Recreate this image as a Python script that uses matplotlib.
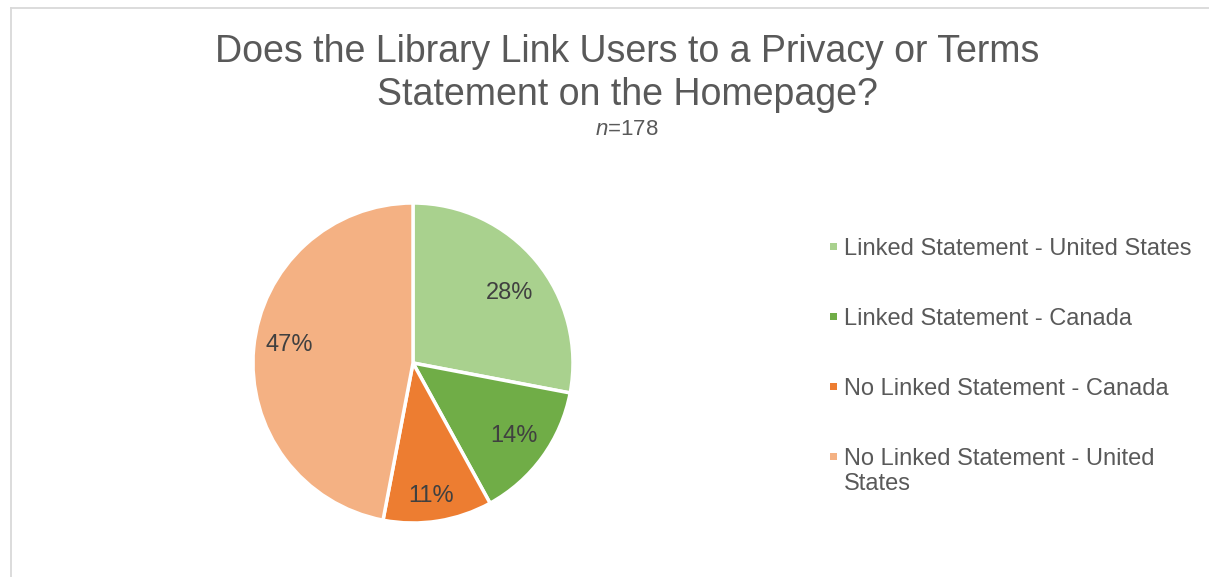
import matplotlib

matplotlib.use("Agg")
import matplotlib.pyplot as plt
from matplotlib.lines import Line2D
from matplotlib.patches import Rectangle

plt.rcParams["font.family"] = ["Liberation Sans", "DejaVu Sans"]
plt.rcParams["font.sans-serif"] = ["Liberation Sans", "DejaVu Sans"]

# survey breakdown, n=178
categories = [
    "Linked Statement - United States",
    "Linked Statement - Canada",
    "No Linked Statement - Canada",
    "No Linked Statement - United\nStates",
]
shares = [28, 14, 11, 47]
colors = ["#A9D18E", "#70AD47", "#ED7D31", "#F4B183"]

W, H = 1209, 577
TEXT = "#595959"


def fx(px):
    return px / W


def fy(py):
    return 1 - py / H


fig = plt.figure(figsize=(W / 100, H / 100), dpi=100)

# chart frame (top and left edges only are visible)
fig.add_artist(Line2D([fx(11), 1], [fy(8), fy(8)], color="#D9D9D9", lw=1.3))
fig.add_artist(Line2D([fx(11), fx(11)], [fy(8), 0], color="#D9D9D9", lw=1.3))

fig.text(fx(627), fy(62), "Does the Library Link Users to a Privacy or Terms",
         ha="center", va="baseline", fontsize=27, color=TEXT)
fig.text(fx(627), fy(105), "Statement on the Homepage?",
         ha="center", va="baseline", fontsize=27, color=TEXT)
fig.text(fx(627), fy(135), r"$n$=178", ha="center", va="baseline",
         fontsize=16, color=TEXT, math_fontfamily="custom")

cx, cy, r = 413, 363, 160
ax = fig.add_axes([fx(cx - r), fy(cy + r), 2 * r / W, 2 * r / H])
wedges, texts, autotexts = ax.pie(
    shares,
    colors=colors,
    startangle=90,
    counterclock=False,
    autopct="%d%%",
    pctdistance=0.78,
    wedgeprops=dict(edgecolor="white", linewidth=2.5),
    textprops=dict(fontsize=17, color="#404040"),
)
# nudge labels to where best-fit placement puts them
x, y = autotexts[0].get_position()
autotexts[0].set_position((x, y - 0.06))
x, y = autotexts[2].get_position()
autotexts[2].set_position((x * 0.95, y * 1.08))
x, y = autotexts[3].get_position()
autotexts[3].set_position((x, y + 0.04))
ax.set_xlim(-1, 1)
ax.set_ylim(-1, 1)
ax.set_aspect("auto")
ax.axis("off")

baselines = [255, 325, 395, 465]
for label, color, base in zip(categories, colors, baselines):
    fig.add_artist(Rectangle((fx(830), fy(base - 5)), fx(7), 7 / H,
                             facecolor=color, edgecolor="none"))
    for i, line in enumerate(label.split("\n")):
        fig.text(fx(844), fy(base + 25 * i), line, ha="left", va="baseline",
                 fontsize=17, color=TEXT)

fig.savefig("out.png", dpi=100)
